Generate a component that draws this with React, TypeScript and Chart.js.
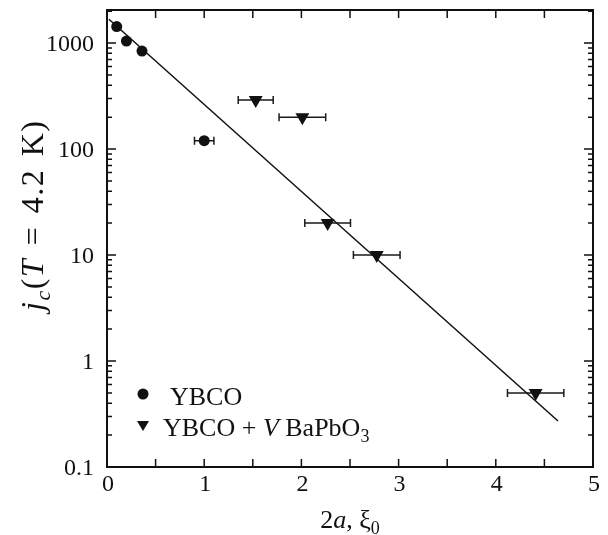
import { useEffect, useRef } from "react";
import { Chart, registerables } from "chart.js";

Chart.register(...registerables);

// ---- data ----
const ybcoX = [0.1, 0.2, 0.36, 1.0];
const ybcoY = [1430, 1045, 840, 120];
const ybcoXErr = [0, 0, 0, 0.1];

const bpoX = [1.53, 2.01, 2.27, 2.775, 4.41];
const bpoY = [290, 200, 20, 10, 0.5];
const bpoXErr = [0.18, 0.24, 0.235, 0.24, 0.29];

const fitX = [0.02, 4.64];
const fitY = [1675, 0.272];

const xTicks = [0, 1, 2, 3, 4, 5];
const xTickLabels = ["0", "1", "2", "3", "4", "5"];
const xMinorTicks = [0.5, 1, 1.5, 2, 2.5, 3, 3.5, 4, 4.5];
const yTicks = [0.1, 1, 10, 100, 1000];
const yTickLabels = ["0.1", "1", "10", "100", "1000"];

const FONT = "Liberation Serif";

type Seg = { t: string; it?: boolean; sub?: boolean };

function drawRich(
  ctx: CanvasRenderingContext2D,
  segs: Seg[],
  x: number,
  y: number,
  size: number,
  align: "left" | "center",
  track = 0,
  spaceExtra = 0
) {
  const fontFor = (s: Seg) => `${s.it ? "italic " : ""}${s.sub ? Math.round(size * 0.7) : size}px "${FONT}"`;
  const chars: { ch: string; s: Seg; w: number }[] = [];
  segs.forEach((s) => {
    ctx.font = fontFor(s);
    for (const ch of s.t) {
      const w = ctx.measureText(ch).width + track + (ch === " " ? spaceExtra : 0);
      chars.push({ ch, s, w });
    }
  });
  const total = chars.reduce((a, c) => a + c.w, 0) - track;
  let cx = align === "center" ? x - total / 2 : x;
  ctx.textAlign = "left";
  ctx.textBaseline = "alphabetic";
  chars.forEach((c) => {
    ctx.font = fontFor(c.s);
    ctx.fillText(c.ch, cx, c.s.sub ? y + size * 0.22 : y);
    cx += c.w;
  });
}

const decorPlugin = {
  id: "decor",
  beforeDatasetsDraw(chart: any) {
    const { ctx, scales } = chart;
    const xs = scales.x;
    const ys = scales.y;
    ctx.save();
    ctx.strokeStyle = "#1a1a1a";
    ctx.lineWidth = 1.5;
    const bars = (X: number[], Y: number[], E: number[]) => {
      X.forEach((xv, i) => {
        if (!E[i]) return;
        const x1 = xs.getPixelForValue(xv - E[i]);
        const x2 = xs.getPixelForValue(xv + E[i]);
        const py = ys.getPixelForValue(Y[i]);
        ctx.beginPath();
        ctx.moveTo(x1, py);
        ctx.lineTo(x2, py);
        ctx.moveTo(x1, py - 4);
        ctx.lineTo(x1, py + 4);
        ctx.moveTo(x2, py - 4);
        ctx.lineTo(x2, py + 4);
        ctx.stroke();
      });
    };
    bars(ybcoX, ybcoY, ybcoXErr);
    bars(bpoX, bpoY, bpoXErr);
    ctx.restore();
  },
  afterDraw(chart: any) {
    const { ctx, scales, chartArea } = chart;
    const xs = scales.x;
    const ys = scales.y;
    const { left, right, top, bottom } = chartArea;
    ctx.save();
    ctx.strokeStyle = "#111";
    // ticks
    ctx.lineWidth = 1.5;
    ctx.beginPath();
    xMinorTicks.forEach((v) => {
      const px = xs.getPixelForValue(v);
      ctx.moveTo(px, bottom);
      ctx.lineTo(px, bottom - 8);
      ctx.moveTo(px, top);
      ctx.lineTo(px, top + 8);
    });
    for (let d = -1; d <= 3; d++) {
      for (let m = 1; m <= 9; m++) {
        const v = m * Math.pow(10, d);
        if (v <= 0.1 || v > ys.max) continue;
        const py = ys.getPixelForValue(v);
        const len = m === 1 ? 9 : 5;
        ctx.moveTo(left, py);
        ctx.lineTo(left + len, py);
        ctx.moveTo(right, py);
        ctx.lineTo(right - len, py);
      }
    }
    ctx.stroke();
    // frame
    ctx.lineWidth = 2;
    ctx.strokeRect(left, top, right - left, bottom - top);

    ctx.fillStyle = "#111";
    // tick labels
    ctx.font = `24px "${FONT}"`;
    ctx.textBaseline = "alphabetic";
    ctx.textAlign = "center";
    xTicks.forEach((v, i) => {
      ctx.fillText(xTickLabels[i], xs.getPixelForValue(v) + 1, 491);
    });
    ctx.textAlign = "right";
    yTicks.forEach((v, i) => {
      ctx.fillText(yTickLabels[i], 94, ys.getPixelForValue(v) + 8);
    });

    // x title
    drawRich(ctx, [{ t: "2" }, { t: "a", it: true }, { t: ", ξ" }, { t: "0", sub: true }], (left + right) / 2, 528, 26, "center");
    // y title
    ctx.save();
    ctx.translate(43, 216);
    ctx.rotate(-Math.PI / 2);
    drawRich(
      ctx,
      [{ t: "j", it: true }, { t: "c", it: true, sub: true }, { t: "(" }, { t: "T", it: true }, { t: " = 4.2 K)" }],
      0,
      0,
      32,
      "center",
      1.5,
      3
    );
    ctx.restore();

    // legend
    ctx.beginPath();
    ctx.arc(143, 394, 5.5, 0, Math.PI * 2);
    ctx.fill();
    ctx.beginPath();
    ctx.moveTo(137, 421);
    ctx.lineTo(149, 421);
    ctx.lineTo(143, 431);
    ctx.closePath();
    ctx.fill();
    drawRich(ctx, [{ t: "YBCO" }], 170, 405, 26, "left");
    drawRich(ctx, [{ t: "YBCO + " }, { t: "V", it: true }, { t: " BaPbO" }, { t: "3", sub: true }], 163, 436, 26, "left");
    ctx.restore();
  },
};

const zeroPad = (s: any) => {
  s.paddingTop = 0;
  s.paddingBottom = 0;
  s.paddingLeft = 0;
  s.paddingRight = 0;
};

export default function App() {
  const ref = useRef<HTMLCanvasElement | null>(null);
  useEffect(() => {
    document.body.style.margin = "0";
    const canvas = ref.current!;
    const chart = new Chart(canvas, {
      type: "scatter",
      data: {
        datasets: [
          {
            label: "fit",
            data: fitX.map((x, i) => ({ x, y: fitY[i] })),
            showLine: true,
            borderColor: "#111",
            borderWidth: 1.5,
            pointRadius: 0,
            order: 3,
          },
          {
            label: "YBCO",
            data: ybcoX.map((x, i) => ({ x, y: ybcoY[i] })),
            pointStyle: "circle",
            pointRadius: 5.5,
            backgroundColor: "#111",
            borderColor: "#111",
            borderWidth: 0,
            order: 1,
          },
          {
            label: "YBCO + V BaPbO3",
            data: bpoX.map((x, i) => ({ x, y: bpoY[i] })),
            pointStyle: "triangle",
            pointRotation: 180,
            pointRadius: 8,
            backgroundColor: "#111",
            borderColor: "#111",
            borderWidth: 0,
            order: 2,
          },
        ],
      },
      options: {
        animation: false,
        responsive: false,
        layout: { padding: { left: 0, top: 10, right: 15, bottom: 0 } },
        plugins: { legend: { display: false }, tooltip: { enabled: false } },
        scales: {
          x: {
            type: "linear",
            min: 0,
            max: 5,
            afterBuildTicks: (s: any) => {
              s.ticks = xTicks.map((v) => ({ value: v }));
            },
            afterFit: (s: any) => {
              s.height = 68;
              zeroPad(s);
            },
            ticks: { display: false },
            grid: { display: false, drawTicks: false },
            border: { display: false },
          },
          y: {
            type: "logarithmic",
            min: 0.1,
            max: 2050,
            afterBuildTicks: (s: any) => {
              s.ticks = yTicks.map((v) => ({ value: v }));
            },
            afterFit: (s: any) => {
              s.width = 107;
              zeroPad(s);
            },
            ticks: { display: false },
            grid: { display: false, drawTicks: false },
            border: { display: false },
          },
        },
      },
      plugins: [decorPlugin],
    } as any);
    return () => chart.destroy();
  }, []);
  return <canvas ref={ref} width={608} height={535} style={{ display: "block" }} />;
}
